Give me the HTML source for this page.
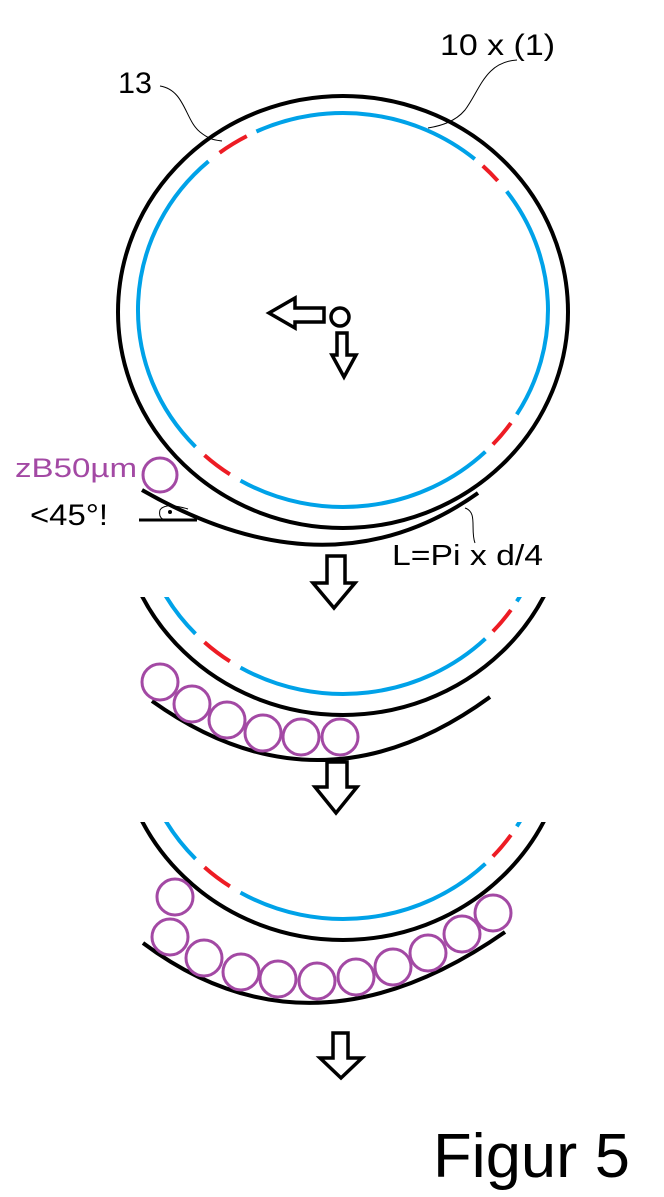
<!DOCTYPE html>
<html><head><meta charset="utf-8"><style>
html,body{margin:0;padding:0;background:#fff;}
svg{display:block;}
text{font-family:"Liberation Sans",sans-serif;}
</style></head><body>
<svg id="s" width="664" height="1197" viewBox="0 0 664 1197" xmlns="http://www.w3.org/2000/svg">
<defs>
<clipPath id="c2"><rect x="0" y="597" width="664" height="400"/></clipPath>
<clipPath id="c3"><rect x="0" y="822" width="664" height="400"/></clipPath>
</defs>
<g id="f1"></g>
<g id="f2" clip-path="url(#c2)"></g>
<g id="f3" clip-path="url(#c3)"></g>

<g fill="none" stroke="#000" stroke-width="4">
<path d="M142,490 Q330,598 478,493"/>
<path d="M152,701 Q320,821 490,697"/>
<path d="M143,943 Q310,1068 505,932"/>
</g>

<g fill="none" stroke="#a349a4" stroke-width="3">
<circle cx="160" cy="475" r="17"/>
<circle cx="160" cy="682" r="18"/><circle cx="192" cy="704" r="18"/><circle cx="227" cy="720" r="18"/>
<circle cx="263" cy="733" r="18"/><circle cx="301" cy="737" r="18"/><circle cx="340" cy="737" r="18"/>
<circle cx="175" cy="897" r="18"/><circle cx="170" cy="937" r="18"/><circle cx="204" cy="958" r="18"/>
<circle cx="241" cy="972" r="18"/><circle cx="278" cy="979" r="18"/><circle cx="317" cy="981" r="18"/>
<circle cx="356" cy="977" r="18"/><circle cx="393" cy="967" r="18"/><circle cx="428" cy="953" r="18"/>
<circle cx="462" cy="934" r="18"/><circle cx="493" cy="913" r="18"/>
</g>

<g fill="none" stroke="#000" stroke-width="3.5" stroke-linejoin="miter">
<path d="M269,313 L295,298 L295,308 L324,308 L324,322 L295,322 L295,328 Z"/>
<circle cx="340" cy="317" r="9"/>
<path d="M337,333 L347,333 L347,355 L356,355 L344,377 L332,355 L337,355 Z"/>
<path d="M327,556 L345,556 L345,583 L355,583 L334,608 L313,583 L327,583 Z"/>
<path d="M327,762 L347,762 L347,787 L357,787 L336,813 L315,787 L327,787 Z"/>
<path d="M333,1033 L348,1033 L348,1058 L362,1058 L341,1078 L320,1058 L333,1058 Z"/>
</g>

<g fill="none" stroke="#000">
<line x1="139" y1="520" x2="197" y2="520" stroke-width="3"/>
<path d="M188,509 Q165,502 160,510 Q158,518 165,520" stroke-width="1"/>
<circle cx="170" cy="512" r="1.5" fill="#000"/>
<path d="M160,86 C185,90 185,120 200,132 C210,140 215,140 222,141" stroke-width="1"/>
<path d="M517,60 C485,62 480,90 465,110 C455,122 440,126 428,128" stroke-width="1"/>
<path d="M465,508 C478,512 470,530 475,543" stroke-width="1"/>
</g>

<text x="118" y="93" font-size="30" textLength="34" lengthAdjust="spacingAndGlyphs">13</text>
<text x="440" y="55" font-size="30" textLength="115" lengthAdjust="spacingAndGlyphs">10 x (1)</text>
<text x="15" y="477" font-size="27" fill="#a349a4" textLength="122" lengthAdjust="spacingAndGlyphs">zB50µm</text>
<text x="30" y="525" font-size="30" textLength="78" lengthAdjust="spacingAndGlyphs">&lt;45°!</text>
<text x="392" y="565" font-size="29" textLength="151" lengthAdjust="spacingAndGlyphs">L=Pi x d/4</text>
<text x="433" y="1177" font-size="62" textLength="197" lengthAdjust="spacingAndGlyphs">Figur 5</text>
</svg>
<script>
(function(){
var NS="http://www.w3.org/2000/svg";
function arc(cx,cy,rx,ry,a0,a1){
 var r=Math.PI/180;
 var x0=cx+rx*Math.cos(a0*r),y0=cy+ry*Math.sin(a0*r);
 var x1=cx+rx*Math.cos(a1*r),y1=cy+ry*Math.sin(a1*r);
 var large=(a1-a0)>180?1:0;
 return "M"+x0.toFixed(1)+","+y0.toFixed(1)+" A"+rx+","+ry+" 0 "+large+" 1 "+x1.toFixed(1)+","+y1.toFixed(1);
}
function add(g,d,col,w){var p=document.createElementNS(NS,"path");p.setAttribute("d",d);p.setAttribute("fill","none");p.setAttribute("stroke",col);p.setAttribute("stroke-width",w);g.appendChild(p);}
function frame(id,dy){
 var g=document.getElementById(id);
 var e=document.createElementNS(NS,"ellipse");
 e.setAttribute("cx",343);e.setAttribute("cy",312+dy);e.setAttribute("rx",225);e.setAttribute("ry",216);
 e.setAttribute("fill","none");e.setAttribute("stroke","#000");e.setAttribute("stroke-width",4);g.appendChild(e);
 var cy=310+dy;
 [[-115,-50],[-37,32],[46,120],[136,229]].forEach(function(s){add(g,arc(343,cy,205,197,s[0],s[1]),"#00a2e8",4);});
 [[-127,-118],[-47,-41],[35,43],[123.5,132.5]].forEach(function(s){add(g,arc(343,cy,205,197,s[0],s[1]),"#ed1c24",4);});
}
frame("f1",0);frame("f2",187);frame("f3",412);
})();
</script>
</body></html>
